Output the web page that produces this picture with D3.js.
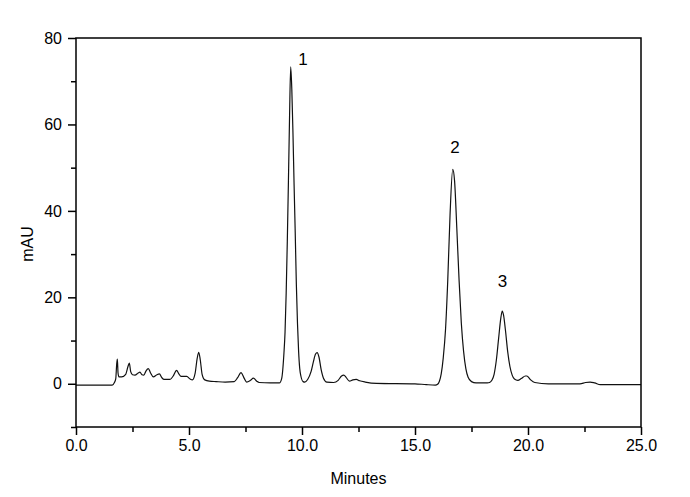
<!DOCTYPE html>
<html>
<head>
<meta charset="utf-8">
<script src="https://cdn.jsdelivr.net/npm/d3@7"></script>
<style>
  html, body { margin: 0; padding: 0; background: #fff; }
  svg { display: block; }
  text { font-family: Arial, "Liberation Sans", sans-serif; fill: #000; }
</style>
</head>
<body>
<svg id="chart" width="690" height="497"></svg>
<script>
// ---- data ----
const times = [
  0, 1.6, 1.7, 1.76, 1.8, 1.83, 1.86, 1.9, 2.02, 2.2, 2.3, 2.36, 2.42, 2.5, 2.61, 2.75, 2.83, 2.92, 3.0, 3.1,
  3.2, 3.3, 3.42, 3.58, 3.69, 3.8, 3.9, 4.16, 4.3, 4.45, 4.55, 4.65, 4.8, 4.9, 5.05, 5.15, 5.27, 5.36, 5.43, 5.5,
  5.58, 5.7, 5.9, 6.2, 6.6, 7.0, 7.15, 7.3, 7.45, 7.55, 7.72, 7.85, 8.0, 8.1, 8.6, 9.0, 9.1, 9.2, 9.25, 9.3,
  9.35, 9.4, 9.45, 9.5, 9.55, 9.6, 9.65, 9.7, 9.75, 9.8, 9.85, 9.9, 9.95, 10.05, 10.12, 10.25, 10.4, 10.5, 10.6, 10.67,
  10.75, 10.85, 10.95, 11.1, 11.4, 11.6, 11.75, 11.85, 11.95, 12.1, 12.25, 12.4, 12.55, 12.8, 13.3, 15.0, 15.5, 15.9, 16.0, 16.08,
  16.16, 16.25, 16.35, 16.45, 16.55, 16.67, 16.75, 16.85, 16.95, 17.05, 17.15, 17.25, 17.35, 17.5, 17.7, 18.2, 18.3, 18.4, 18.5, 18.6,
  18.7, 18.8, 18.86, 18.92, 19.0, 19.1, 19.2, 19.3, 19.4, 19.55, 19.7, 19.88, 19.95, 20.1, 20.3, 20.9, 22.3, 22.55, 22.75, 22.95,
  23.2, 25.0
];
const absorbance = [
  -0.3, -0.3, 0.3, 1.2, 4.5, 5.7, 2.5, 1.6, 1.6, 2.2, 4.0, 4.8, 2.8, 2.1, 2.0, 2.5, 2.7, 2.1, 2.0, 3.0,
  3.5, 2.5, 1.6, 2.1, 2.3, 1.4, 1.0, 1.0, 1.8, 3.1, 2.3, 1.7, 1.7, 1.7, 1.1, 0.9, 2.4, 5.8, 7.3, 5.5,
  2.2, 0.9, 0.6, 0.5, 0.4, 0.5, 1.4, 2.6, 1.2, 0.4, 0.8, 1.3, 0.6, 0.3, 0.2, 0.2, 1.2, 7, 12, 21,
  33, 47, 62, 73.3, 68, 58, 46, 35, 23, 14, 7.5, 3.5, 1.8, 0.5, 0.4, 1.0, 2.8, 5.0, 6.9, 7.2,
  6.2, 3.2, 1.3, 0.4, 0.3, 0.8, 1.8, 2.0, 1.5, 0.6, 0.9, 1.0, 0.7, 0.4, 0.1, 0.0, -0.2, -0.3, -0.1, 0.6,
  2.3, 6.0, 12.5, 24, 39, 49.6, 47, 36, 24, 14, 7.5, 3.5, 1.5, 0.5, 0.2, 0.2, 0.3, 0.8, 2.2, 5.5,
  10.5, 15.3, 16.8, 15.8, 12.5, 7.5, 4.0, 2.0, 1.1, 0.8, 1.2, 1.8, 1.8, 1.0, 0.3, 0.0, 0.0, 0.3, 0.4, 0.2,
  -0.2, -0.2
];
const peakLabels = ["1", "2", "3"];
const peakLabelTimes = [10.04, 16.77, 18.87];
const peakLabelValues = [73.7, 53.4, 22.3];

const xMajorTicks = [0, 5, 10, 15, 20, 25];
const xMinorTicks = [2.5, 7.5, 12.5, 17.5, 22.5];
const yMajorTicks = [0, 20, 40, 60, 80];
const yMinorTicks = [-10, 10, 30, 50, 70];
const xDomain = [0, 25];
const yDomain = [-10, 80];
const xTitle = "Minutes";
const yTitle = "mAU";

// ---- layout ----
const L = 76, R = 641, T = 38, B = 427;
const svg = d3.select("#chart");

const x = d3.scaleLinear().domain(xDomain).range([L, R]);
const y = d3.scaleLinear().domain(yDomain).range([B, T]);

const pts = times.map((t, i) => [t, absorbance[i]]);

// trace
const line = d3.line().x(d => x(d[0])).y(d => y(d[1])).curve(d3.curveMonotoneX);
svg.append("path")
  .datum(pts)
  .attr("d", line)
  .attr("fill", "none")
  .attr("stroke", "#111")
  .attr("stroke-width", 1.2)
  .attr("stroke-linejoin", "round");

// axes
const fontSize = "16px";
const gx = svg.append("g").attr("transform", `translate(0,${B})`)
  .call(d3.axisBottom(x).tickValues(xMajorTicks).tickFormat(d3.format(".1f")).tickSize(8).tickPadding(5));
const gxm = svg.append("g").attr("transform", `translate(0,${B})`)
  .call(d3.axisBottom(x).tickValues(xMinorTicks).tickFormat("").tickSize(5));
const gy = svg.append("g").attr("transform", `translate(${L},0)`)
  .call(d3.axisLeft(y).tickValues(yMajorTicks).tickFormat(d3.format("d")).tickSize(8).tickPadding(6));
const gym = svg.append("g").attr("transform", `translate(${L},0)`)
  .call(d3.axisLeft(y).tickValues(yMinorTicks).tickFormat("").tickSize(5));

[gx, gxm, gy, gym].forEach(g => {
  g.select(".domain").remove();
  g.selectAll("line").attr("stroke", "#000").attr("stroke-width", 1.5);
  g.selectAll("text").style("font-size", fontSize).style("font-family", "Arial, 'Liberation Sans', sans-serif").attr("fill", "#000");
});

// frame
svg.append("rect")
  .attr("x", L).attr("y", T)
  .attr("width", R - L).attr("height", B - T)
  .attr("fill", "none").attr("stroke", "#000").attr("stroke-width", 1.5);

// axis titles
svg.append("text")
  .attr("x", (L + R) / 2).attr("y", 484)
  .attr("text-anchor", "middle")
  .style("font-size", "16px")
  .text(xTitle);
svg.append("text")
  .attr("transform", `translate(33,244) rotate(-90)`)
  .attr("text-anchor", "middle")
  .style("font-size", "16px")
  .text(yTitle);

// peak labels
svg.selectAll("text.peak")
  .data(peakLabels)
  .enter().append("text")
  .attr("class", "peak")
  .attr("x", (d, i) => x(peakLabelTimes[i]))
  .attr("y", (d, i) => y(peakLabelValues[i]))
  .attr("text-anchor", "middle")
  .style("font-size", "17px")
  .text(d => d);
</script>
</body>
</html>
